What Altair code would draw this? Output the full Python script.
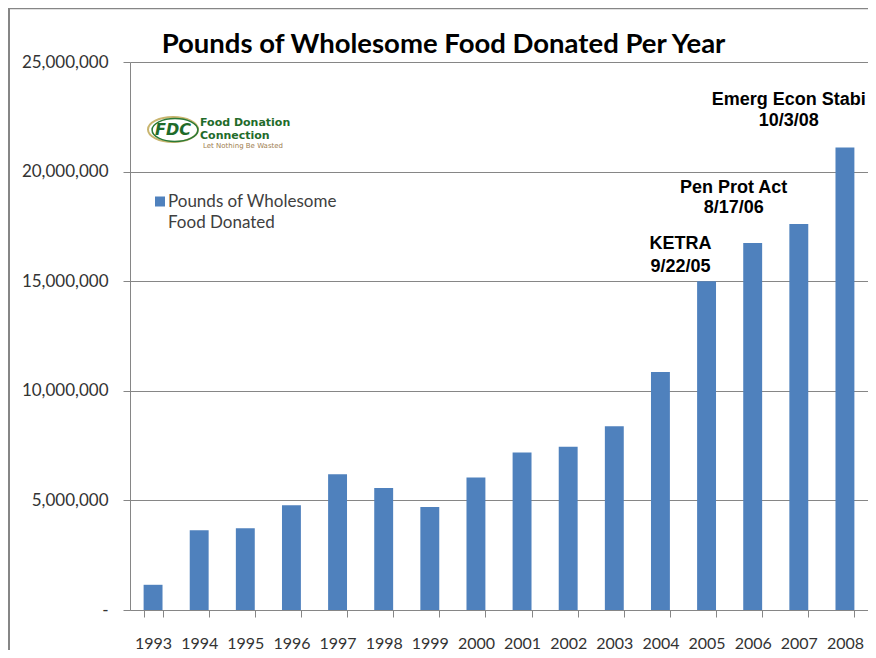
import altair as alt
import pandas as pd

# ---- data ----
years = [str(y) for y in range(1993, 2009)]
pounds = [1150000, 3640000, 3730000, 4780000, 6190000, 5570000, 4700000, 6050000,
          7190000, 7450000, 8380000, 10860000, 15000000, 16740000, 17610000, 21100000]

note_text = ["KETRA", "9/22/05", "Pen Prot Act", "8/17/06", "Emerg Econ Stabi", "10/3/08"]
note_year = ["2004", "2004", "2006", "2006", "2007", "2007"]
note_value = [16470000, 15420000, 19020000, 18090000, 23040000, 22080000]
note_dx = [20, 20, -19, -19, -10, -10]

y_ticks = [0, 5000000, 10000000, 15000000, 20000000, 25000000]

title_text = "Pounds of Wholesome Food Donated Per Year"
legend_lines = ["Pounds of Wholesome", "Food Donated"]

BLUE = "#4F81BD"
GRAY = "#868686"
FONT = "Lato"

W, H = 738, 548

df = pd.DataFrame({"year": years, "pounds": pounds})

bars = alt.Chart(df).mark_bar(color=BLUE).encode(
    x=alt.X("year:N",
            scale=alt.Scale(paddingInner=0.59, paddingOuter=0.295),
            axis=alt.Axis(title=None, labelAngle=0, tickBand="extent", tickSize=7,
                          tickColor=GRAY, domainColor=GRAY, labelFont=FONT,
                          labelFontSize=16, labelColor="#333333", labelPadding=18,
                          grid=False)),
    y=alt.Y("pounds:Q",
            scale=alt.Scale(domain=[0, 25000000], nice=False),
            axis=alt.Axis(title=None, values=y_ticks, tickSize=7, tickColor=GRAY,
                          domainColor=GRAY, gridColor=GRAY, grid=True,
                          labelFont=FONT, labelFontSize=17, labelColor="#333333",
                          labelPadding=15,
                          labelExpr="datum.value == 0 ? '-' : format(datum.value, ',')")),
)

layers = [bars]

# annotations
for t, yr, v, dx in zip(note_text, note_year, note_value, note_dx):
    row = pd.DataFrame({"year": [yr], "pounds": [v], "label": [t]})
    layers.append(
        alt.Chart(row).mark_text(font="Liberation Sans", fontWeight="bold", fontSize=18,
                                 color="#000000", baseline="alphabetic", align="center",
                                 dx=dx).encode(
            x=alt.X("year:N"), y=alt.Y("pounds:Q"), text="label:N")
    )

one = pd.DataFrame({"k": [0]})


def deco_text(text, x, y, **kw):
    return alt.Chart(one).mark_text(text=text, **kw).encode(x=alt.value(x), y=alt.value(y))


# title
layers.append(deco_text(title_text, 313.5, -9, font=FONT, fontWeight="bold", fontSize=27.5,
                        color="#000000", align="center", baseline="alphabetic"))

# legend
layers.append(alt.Chart(one).mark_square(color=BLUE, size=100, opacity=1).encode(
    x=alt.value(30), y=alt.value(139.5)))
layers.append(deco_text(legend_lines[0], 38, 145, font=FONT, fontSize=17, color="#404040",
                        align="left", baseline="alphabetic"))
layers.append(deco_text(legend_lines[1], 38, 166, font=FONT, fontSize=17, color="#404040",
                        align="left", baseline="alphabetic"))

# logo
ellipse = "M -1 0 A 1 0.5 0 1 1 1 0 A 1 0.5 0 1 1 -1 0 Z"
layers.append(alt.Chart(one).mark_point(shape=ellipse, size=2500, color="#c9b56f",
                                        strokeWidth=2, filled=False, opacity=1).encode(
    x=alt.value(43), y=alt.value(67.5)))
layers.append(alt.Chart(one).mark_point(shape=ellipse, size=2100, color="#2a7a36",
                                        strokeWidth=1.5, filled=False, opacity=1).encode(
    x=alt.value(45), y=alt.value(68)))
layers.append(deco_text("FDC", 43, 68, font="DejaVu Sans", fontWeight="bold", fontStyle="italic",
                        fontSize=16, color="#1f6b2a", align="center", baseline="middle"))
layers.append(deco_text("Food Donation", 70, 64, font="DejaVu Sans", fontWeight="bold",
                        fontSize=11, color="#1f6b2a", align="left", baseline="alphabetic"))
layers.append(deco_text("Connection", 70, 77, font="DejaVu Sans", fontWeight="bold",
                        fontSize=11, color="#1f6b2a", align="left", baseline="alphabetic"))
layers.append(deco_text("Let Nothing Be Wasted", 73, 86, font="DejaVu Sans", fontSize=7,
                        color="#a08050", align="left", baseline="alphabetic"))

# frame lines
layers.append(alt.Chart(one).mark_rule(color=GRAY, strokeWidth=1.5).encode(
    x=alt.value(-122), x2=alt.value(W), y=alt.value(-53.5)))
layers.append(alt.Chart(one).mark_rule(color=GRAY, strokeWidth=2).encode(
    x=alt.value(-121), y=alt.value(-54), y2=alt.value(588)))

chart = alt.layer(*layers).properties(
    width=W, height=H,
    padding={"left": 122, "top": 54, "right": 0, "bottom": 40},
    autosize=alt.AutoSizeParams(type="none"),
).configure_view(stroke=None)

chart.save("out.html", embed_options={"renderer": "svg", "actions": False})
